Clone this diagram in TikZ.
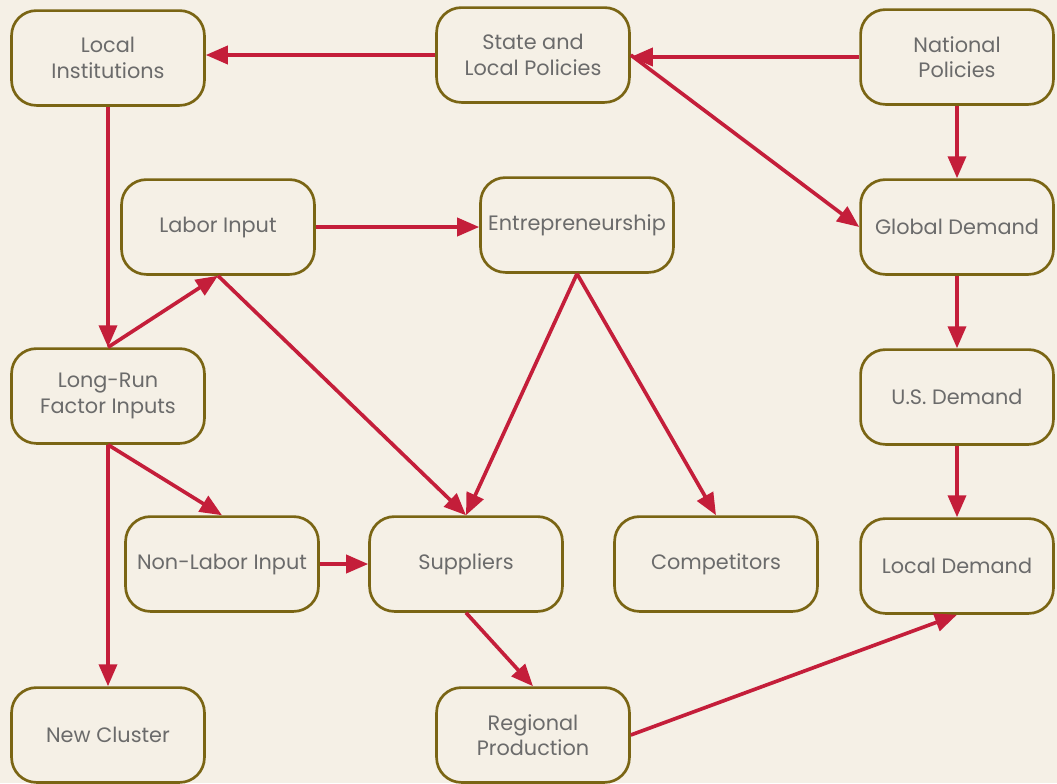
\documentclass[tikz,border=0pt]{standalone}
\usepackage{fontspec}
\setmainfont{Poppins}
\usetikzlibrary{arrows.meta}
\definecolor{bgc}{HTML}{F5F0E6}
\definecolor{boxc}{HTML}{7A6514}
\definecolor{arc}{HTML}{C41E3A}
\definecolor{txc}{HTML}{6B6B6B}
\tikzset{%
    blo/.style={rectangle, rounded corners=0.62cm, draw=boxc, line width=1.9pt,
        minimum width=4.82cm, minimum height=2.37cm, align=center,
        text=txc, font=\fontsize{14.8}{18}\selectfont, inner sep=2pt},
    pra/.style={draw=arc, line width=2.6pt, -{Triangle[length=0.55cm, width=0.45cm]}},
}

\begin{document}
\begin{tikzpicture}[x=0.025cm, y=-0.025cm]
    \fill [bgc](0,0) rectangle (1057,783);
    \useasboundingbox (0,0) rectangle (1057,783);
    % top row
    \node [blo] (lin) at (108,58) {Local\\Institutions};
    \node [blo] (stp) at (533,55) {State and\\Local Policies};
    \node [blo] (nap) at (957,57) {National\\Policies};
    % second row
    \node [blo] (lab) at (218,227) {Labor Input};
    \node [blo] (ent) at (577,225) {Entrepreneurship};
    \node [blo] (gld) at (957,227) {Global Demand};
    % third row
    \node [blo] (lrf) at (108,396) {Long-Run\\Factor Inputs};
    \node [blo] (usd) at (957,397) {U.S. Demand};
    % fourth row
    \node [blo] (nli) at (222,564) {Non-Labor Input};
    \node [blo] (sup) at (466,564) {Suppliers};
    \node [blo, minimum width=5.07cm] (cmp) at (716,564) {Competitors};
    \node [blo] (lcd) at (957,566) {Local Demand};
    % bottom row
    \node [blo] (ncl) at (108,735) {New Cluster};
    \node [blo] (rgp) at (533,735) {Regional\\Production};
    % arrows
    \draw [pra](stp.west)--(lin.east |- stp.west);
    \draw [pra](nap.west)--(stp.east |- nap.west);
    \draw [pra](stp.east)--(gld.west);
    \draw [pra](nap.south)--(gld.north);
    \draw [pra](gld.south)--(usd.north);
    \draw [pra](usd.south)--(lcd.north);
    \draw [pra](lin.south)--(lrf.north);
    \draw [pra](lrf.north)--(lab.south);
    \draw [pra](lab.east)--(ent.west |- lab.east);
    \draw [pra](lab.south)--(sup.north);
    \draw [pra](ent.south)--(sup.north);
    \draw [pra](ent.south)--(cmp.north);
    \draw [pra](lrf.south)--(nli.north);
    \draw [pra](lrf.south)--(ncl.north);
    \draw [pra](nli.east)--(sup.west |- nli.east);
    \draw [pra](sup.south)--(rgp.north);
    \draw [pra](rgp.east)--(lcd.south);
\end{tikzpicture}
\end{document}
